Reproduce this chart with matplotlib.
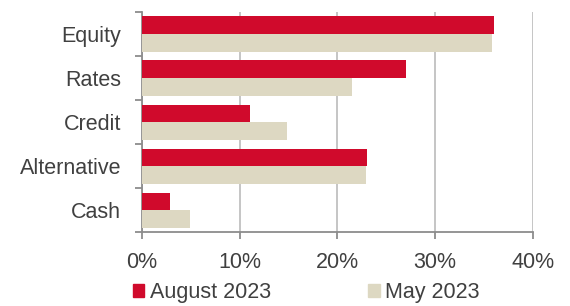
import matplotlib.pyplot as plt
import numpy as np
from matplotlib.patches import Patch
from matplotlib.ticker import FuncFormatter, MultipleLocator

categorias = ["Equity", "Rates", "Credit", "Alternative", "Cash"]
agosto_2023 = [36.0, 27.0, 11.0, 23.0, 2.9]
maio_2023 = [35.8, 21.5, 14.8, 22.9, 4.9]
rotulos_serie = ["August 2023", "May 2023"]

vermelho = "#d00a2c"
bege = "#ddd8c2"
cinza_texto = "#404040"

plt.rcParams["font.family"] = ["Liberation Sans", "DejaVu Sans"]

fig = plt.figure(figsize=(5.7, 3.06), dpi=100)
ax = fig.add_axes([0.2491, 0.2408, 0.6859, 0.72])

y = np.arange(len(categorias))
altura = 0.4
ax.barh(y - altura / 2, agosto_2023, height=altura, color=vermelho, zorder=3)
ax.barh(y + altura / 2, maio_2023, height=altura, color=bege, zorder=3)

ax.set_xlim(0, 40)
ax.set_ylim(len(categorias) - 0.5, -0.5)
ax.xaxis.set_major_locator(MultipleLocator(10))
ax.xaxis.set_major_formatter(FuncFormatter(lambda v, p: f"{v:.0f}%"))
ax.set_yticks(y)
ax.set_yticklabels(categorias)
ax.set_yticks(np.arange(-0.5, len(categorias)), minor=True)

ax.grid(axis="x", color="#c0c0c0", linewidth=1.3, zorder=0)
for lado in ["top", "right"]:
    ax.spines[lado].set_visible(False)
for lado in ["left", "bottom"]:
    ax.spines[lado].set_color("#8c8c8c")
    ax.spines[lado].set_linewidth(1.3)

ax.tick_params(axis="x", length=5, width=1.3, color="#8c8c8c",
               labelsize=15.5, labelcolor=cinza_texto, pad=9)
ax.tick_params(axis="y", which="major", length=0,
               labelsize=15.5, labelcolor=cinza_texto, pad=15)
ax.tick_params(axis="y", which="minor", length=5, width=1.3, color="#8c8c8c")

alcas = [Patch(color=vermelho), Patch(color=bege)]
fig.legend(alcas, rotulos_serie, loc="center", bbox_to_anchor=(0.537, 0.045),
           ncol=2, frameon=False, fontsize=15.5, handlelength=0.55,
           handleheight=0.55, handletextpad=0.25, columnspacing=4.5,
           borderpad=0, labelcolor=cinza_texto)

fig.savefig("out.png", dpi=100)
